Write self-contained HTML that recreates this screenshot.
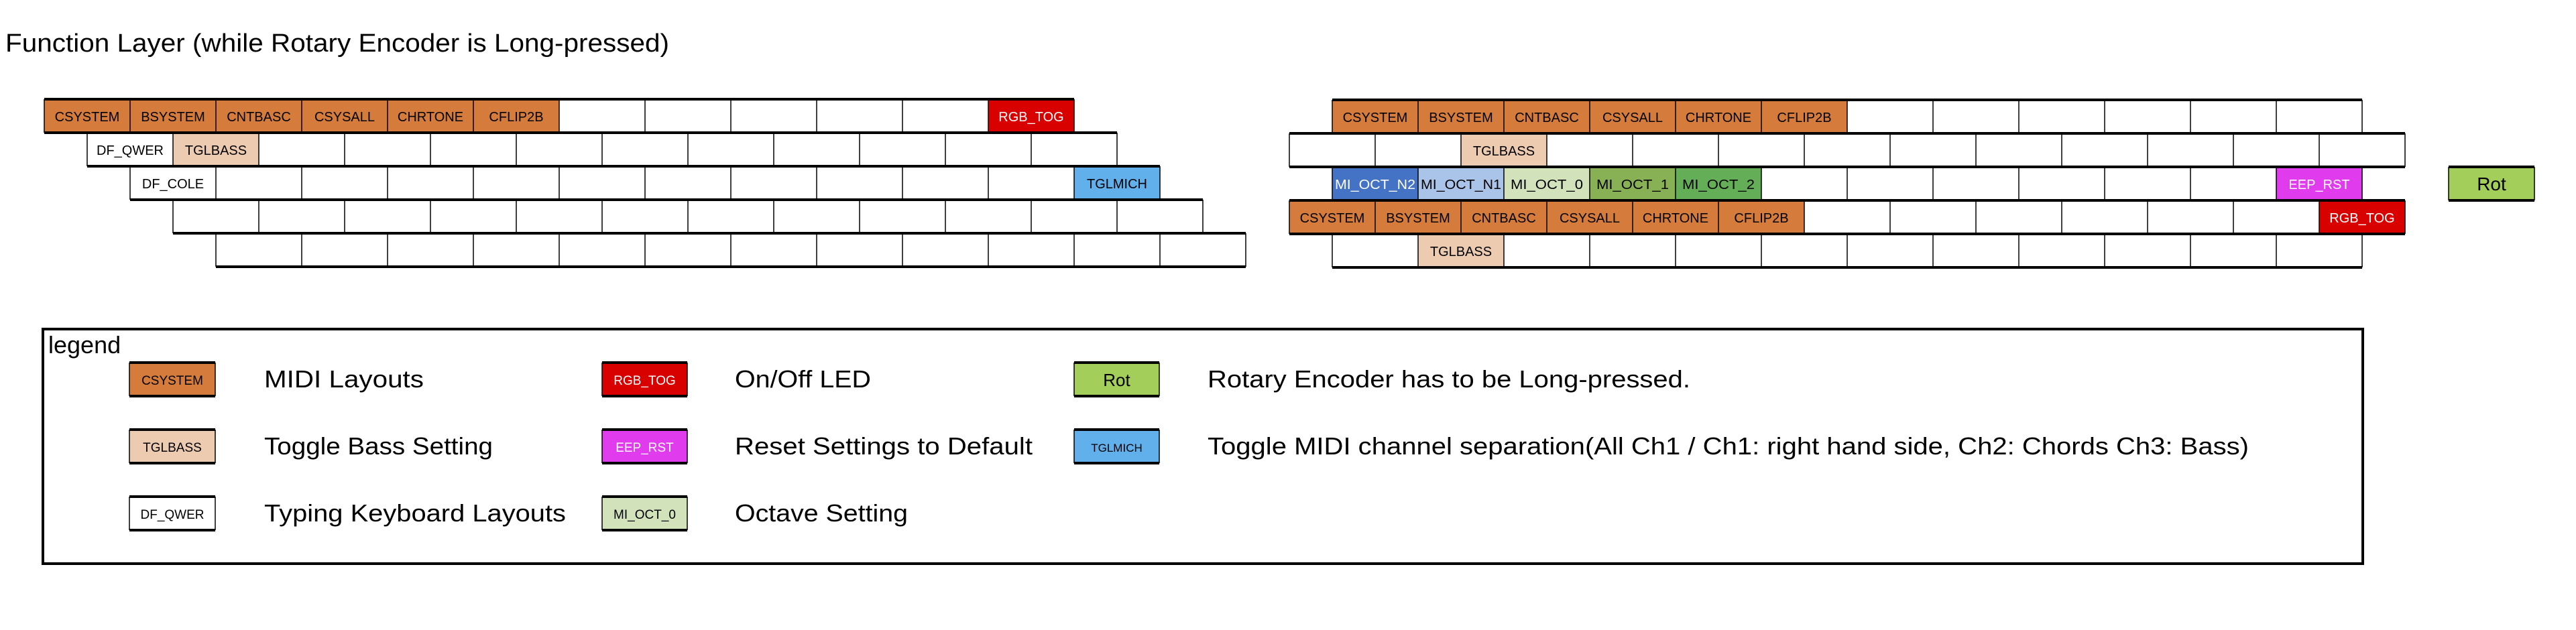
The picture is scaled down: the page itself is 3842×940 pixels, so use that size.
<!DOCTYPE html>
<html><head><meta charset="utf-8"><style>
html,body{margin:0;padding:0;background:#fff;}
svg{display:block;}
text{font-family:"Liberation Sans",sans-serif;}
.c{font-size:20px;text-anchor:middle;}
.w{fill:#fff;}
.t{stroke:#000;stroke-width:4;fill:none;}
.v{stroke:#000;stroke-width:1.5;fill:none;}
.L{font-size:36px;}
</style></head><body>
<svg width="3842" height="940" viewBox="0 0 3842 940" xmlns="http://www.w3.org/2000/svg">
<defs>
<pattern id="pL0" patternUnits="userSpaceOnUse" x="65.25" y="0" width="128" height="940"><rect x="0" y="0" width="1.5" height="940" fill="#000"/></pattern>
<pattern id="pL1" patternUnits="userSpaceOnUse" x="1.25" y="0" width="128" height="940"><rect x="0" y="0" width="1.5" height="940" fill="#000"/></pattern>
<pattern id="pRA" patternUnits="userSpaceOnUse" x="66.25" y="0" width="128" height="940"><rect x="0" y="0" width="1.5" height="940" fill="#000"/></pattern>
<pattern id="pRB" patternUnits="userSpaceOnUse" x="2.25" y="0" width="128" height="940"><rect x="0" y="0" width="1.5" height="940" fill="#000"/></pattern>
</defs>
<rect width="3842" height="940" fill="#fff"/>
<text x="8" y="77" font-size="38" textLength="990" lengthAdjust="spacingAndGlyphs">Function Layer (while Rotary Encoder is Long-pressed)</text>

<!-- LEFT KEYBOARD -->
<g>
<rect x="66" y="148" width="768" height="50" fill="#D57B3B"/>
<rect x="1474" y="148" width="128" height="50" fill="#D90000"/>
<rect x="258" y="198" width="128" height="50" fill="#EDCBB0"/>
<rect x="1602" y="248" width="128" height="50" fill="#61AFEB"/>
<rect x="65" y="148" width="1539" height="50" fill="url(#pL0)"/>
<rect x="129" y="198" width="1539" height="50" fill="url(#pL1)"/>
<rect x="193" y="248" width="1539" height="50" fill="url(#pL0)"/>
<rect x="257" y="298" width="1539" height="50" fill="url(#pL1)"/>
<rect x="321" y="348" width="1539" height="50" fill="url(#pL0)"/>
<path class="t" d="M66,148H1602M66,198H1666M130,248H1730M194,298H1794M258,348H1858M322,398H1858"/>
<text class="c" x="130" y="181">CSYSTEM</text>
<text class="c" x="258" y="181">BSYSTEM</text>
<text class="c" x="386" y="181">CNTBASC</text>
<text class="c" x="514" y="181">CSYSALL</text>
<text class="c" x="642" y="181">CHRTONE</text>
<text class="c" x="770" y="181">CFLIP2B</text>
<text class="c w" x="1538" y="181">RGB_TOG</text>
<text class="c" x="194" y="231">DF_QWER</text>
<text class="c" x="322" y="231">TGLBASS</text>
<text class="c" x="258" y="281">DF_COLE</text>
<text class="c" x="1666" y="281">TGLMICH</text>
</g>

<!-- RIGHT KEYBOARD -->
<g>
<rect x="1987" y="149" width="768" height="50" fill="#D57B3B"/>
<rect x="2179" y="199" width="128" height="50" fill="#EDCBB0"/>
<rect x="1987" y="249" width="128" height="50" fill="#4472C4"/>
<rect x="2115" y="249" width="128" height="50" fill="#A9C4E8"/>
<rect x="2243" y="249" width="128" height="50" fill="#D2E3BB"/>
<rect x="2371" y="249" width="128" height="50" fill="#88B055"/>
<rect x="2499" y="249" width="128" height="50" fill="#63AE57"/>
<rect x="3395" y="249" width="128" height="50" fill="#E03CEE"/>
<rect x="1923" y="299" width="768" height="50" fill="#D57B3B"/>
<rect x="3459" y="299" width="128" height="50" fill="#D90000"/>
<rect x="2115" y="349" width="128" height="50" fill="#EDCBB0"/>
<rect x="1986" y="149" width="1539" height="50" fill="url(#pRA)"/>
<rect x="1922" y="199" width="1667" height="50" fill="url(#pRB)"/>
<rect x="1986" y="249" width="1539" height="50" fill="url(#pRA)"/>
<rect x="1922" y="299" width="1667" height="50" fill="url(#pRB)"/>
<rect x="1986" y="349" width="1539" height="50" fill="url(#pRA)"/>
<path class="t" d="M1987,149H3523M1923,199H3587M1923,249H3587M1923,299H3587M1923,349H3587M1987,399H3523"/>
<text class="c" x="2051" y="182">CSYSTEM</text>
<text class="c" x="2179" y="182">BSYSTEM</text>
<text class="c" x="2307" y="182">CNTBASC</text>
<text class="c" x="2435" y="182">CSYSALL</text>
<text class="c" x="2563" y="182">CHRTONE</text>
<text class="c" x="2691" y="182">CFLIP2B</text>
<text class="c" x="2243" y="232">TGLBASS</text>
<text class="c w" x="2051" y="282" textLength="120" lengthAdjust="spacingAndGlyphs">MI_OCT_N2</text>
<text class="c" x="2179" y="282" textLength="120" lengthAdjust="spacingAndGlyphs">MI_OCT_N1</text>
<text class="c" x="2307" y="282" textLength="108" lengthAdjust="spacingAndGlyphs">MI_OCT_0</text>
<text class="c" x="2435" y="282" textLength="108" lengthAdjust="spacingAndGlyphs">MI_OCT_1</text>
<text class="c" x="2563" y="282" textLength="108" lengthAdjust="spacingAndGlyphs">MI_OCT_2</text>
<text class="c w" x="3459" y="282">EEP_RST</text>
<text class="c" x="1987" y="332">CSYSTEM</text>
<text class="c" x="2115" y="332">BSYSTEM</text>
<text class="c" x="2243" y="332">CNTBASC</text>
<text class="c" x="2371" y="332">CSYSALL</text>
<text class="c" x="2499" y="332">CHRTONE</text>
<text class="c" x="2627" y="332">CFLIP2B</text>
<text class="c w" x="3523" y="332">RGB_TOG</text>
<text class="c" x="2179" y="382">TGLBASS</text>
<rect x="3652" y="249" width="128" height="50" fill="#A4CE5A"/>
<path class="v" d="M3652,249V299M3780,249V299"/>
<path class="t" d="M3652,249H3780M3652,299H3780"/>
<text x="3716" y="284" font-size="28" text-anchor="middle">Rot</text>
</g>

<!-- LEGEND -->
<rect x="64" y="491" width="3460" height="350" fill="none" stroke="#000" stroke-width="4"/>
<text x="72" y="527" font-size="36">legend</text>

<g>
<rect x="193" y="541" width="128" height="50" fill="#D57B3B"/>
<rect x="193" y="641" width="128" height="50" fill="#EDCBB0"/>
<rect x="193" y="741" width="128" height="50" fill="#fff"/>
<rect x="898" y="541" width="127" height="50" fill="#D90000"/>
<rect x="898" y="641" width="127" height="50" fill="#E03CEE"/>
<rect x="898" y="741" width="127" height="50" fill="#D2E3BB"/>
<rect x="1602" y="541" width="127" height="50" fill="#A4CE5A"/>
<rect x="1602" y="641" width="127" height="50" fill="#61AFEB"/>
<path class="v" d="M193,541V591M321,541V591M193,641V691M321,641V691M193,741V791M321,741V791M898,541V591M1025,541V591M898,641V691M1025,641V691M898,741V791M1025,741V791M1602,541V591M1729,541V591M1602,641V691M1729,641V691"/>
<path class="t" d="M193,541H321M193,591H321M193,641H321M193,691H321M193,741H321M193,791H321M898,541H1025M898,591H1025M898,641H1025M898,691H1025M898,741H1025M898,791H1025M1602,541H1729M1602,591H1729M1602,641H1729M1602,691H1729"/>
<text class="c" x="257" y="574" style="font-size:19px">CSYSTEM</text>
<text class="c" x="257" y="674" style="font-size:19px">TGLBASS</text>
<text class="c" x="257" y="774" style="font-size:19px">DF_QWER</text>
<text class="c w" x="961.5" y="574" style="font-size:19px">RGB_TOG</text>
<text class="c w" x="961.5" y="674" style="font-size:19px">EEP_RST</text>
<text class="c" x="961.5" y="774" style="font-size:19px">MI_OCT_0</text>
<text class="c" x="1665.5" y="576" style="font-size:26px">Rot</text>
<text class="c" x="1665.5" y="674" style="font-size:17px">TGLMICH</text>
</g>

<text class="L" x="394" y="578" textLength="238" lengthAdjust="spacingAndGlyphs">MIDI Layouts</text>
<text class="L" x="394" y="678" textLength="341" lengthAdjust="spacingAndGlyphs">Toggle Bass Setting</text>
<text class="L" x="394" y="778" textLength="450" lengthAdjust="spacingAndGlyphs">Typing Keyboard Layouts</text>
<text class="L" x="1096" y="578" textLength="203" lengthAdjust="spacingAndGlyphs">On/Off LED</text>
<text class="L" x="1096" y="678" textLength="444" lengthAdjust="spacingAndGlyphs">Reset Settings to Default</text>
<text class="L" x="1096" y="778" textLength="258" lengthAdjust="spacingAndGlyphs">Octave Setting</text>
<text class="L" x="1801" y="578" textLength="720" lengthAdjust="spacingAndGlyphs">Rotary Encoder has to be Long-pressed.</text>
<text class="L" x="1801" y="678" textLength="1553" lengthAdjust="spacingAndGlyphs">Toggle MIDI channel separation(All Ch1 / Ch1: right hand side, Ch2: Chords Ch3: Bass)</text>
</svg>
</body></html>
